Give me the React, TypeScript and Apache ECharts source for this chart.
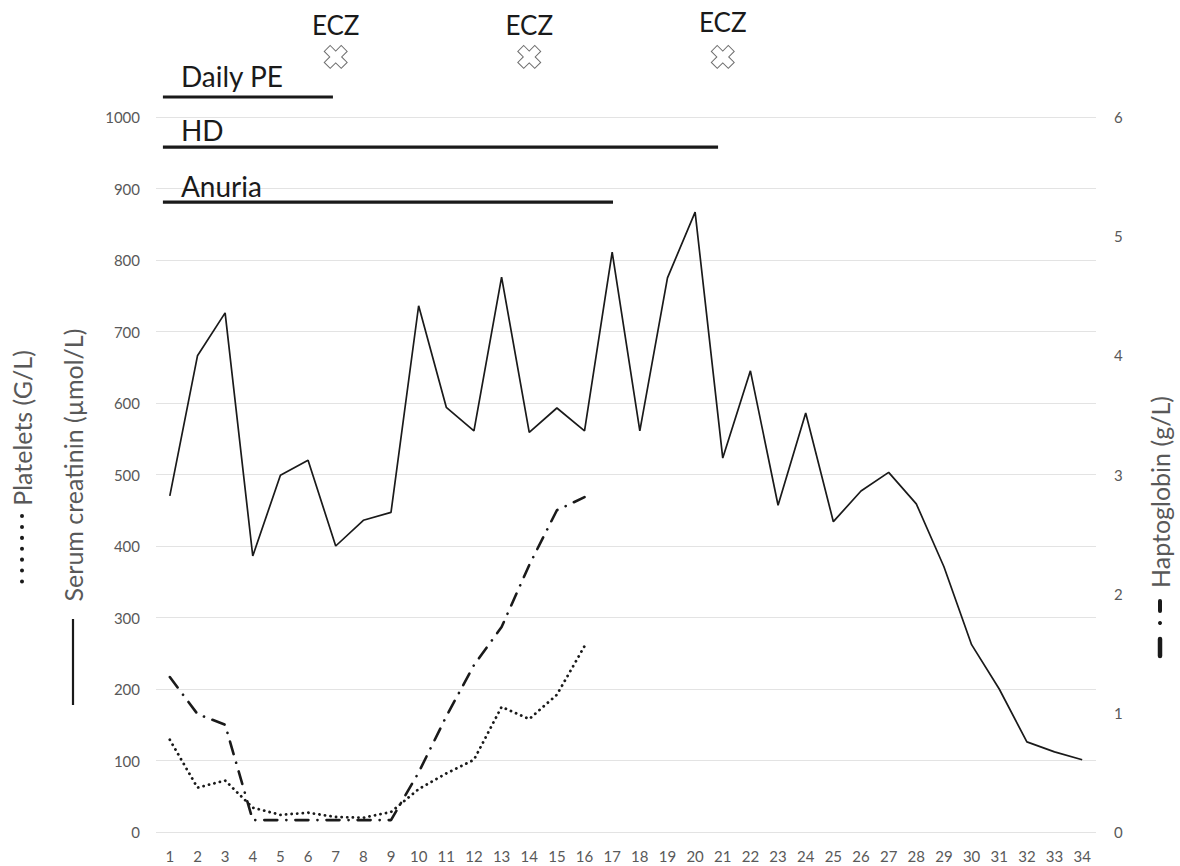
import React, { useEffect, useRef } from "react";
import * as echarts from "echarts";

const days = Array.from({ length: 34 }, (_, i) => String(i + 1));

const creatinine = [
  470, 666, 726, 386, 499, 520, 400, 436, 447, 736, 594, 561, 776, 559, 593, 561, 811,
  561, 775, 867, 523, 645, 457, 586, 434, 477, 503, 459, 371, 262, 200, 126, 112, 101,
];

const platelets = [
  129, 62, 72, 34, 24, 27, 21, 20, 28, 60, 82, 101, 175, 158, 192, 260,
];

const haptoglobin = [
  1.3, 0.99, 0.9, 0.1, 0.1, 0.1, 0.1, 0.1, 0.1, 0.5, 0.97, 1.4, 1.72, 2.24, 2.7, 2.81,
];

const leftTicks = { min: 0, max: 1000, interval: 100 };
const rightTicks = { min: 0, max: 6, interval: 1 };

// treatment bars: label, start day, end day, bar level, label level (left axis units)
const treatBars = [
  { label: "Daily PE", start: 0.75, end: 6.9, level: 1028, textLevel: 1058 },
  { label: "HD", start: 0.75, end: 20.83, level: 958, textLevel: 982 },
  { label: "Anuria", start: 0.75, end: 17.03, level: 881, textLevel: 903 },
];

// ECZ administrations: day, label level, marker level
const eczDays = [
  { day: 7, textLevel: 1129, markLevel: 1084 },
  { day: 14, textLevel: 1129, markLevel: 1084 },
  { day: 21, textLevel: 1133, markLevel: 1084 },
];

const FONT = "Lato, 'Open Sans', sans-serif";
const GRAY = "#595959";
const INK = "#1a1a1a";

function crossPoints(s: number, w: number): number[][] {
  return [
    [w, -s], [w, -w], [s, -w], [s, w], [w, w], [w, s],
    [-w, s], [-w, w], [-s, w], [-s, -w], [-w, -w], [-w, -s],
  ];
}

export default function App() {
  const ref = useRef<HTMLDivElement>(null);

  useEffect(() => {
    document.body.style.margin = "0";
    if (!ref.current) return;
    const chart = echarts.init(ref.current, undefined, { renderer: "svg" });

    chart.setOption({
      animation: false,
      backgroundColor: "#ffffff",
      grid: { left: 156, right: 84, top: 117, bottom: 34 },
      xAxis: {
        type: "category",
        data: days,
        boundaryGap: true,
        axisLine: { show: false },
        axisTick: { show: false },
        axisLabel: { color: GRAY, fontFamily: FONT, fontSize: 15, margin: 16, interval: 0 },
      },
      yAxis: [
        {
          type: "value",
          ...leftTicks,
          axisLine: { show: false },
          axisTick: { show: false },
          axisLabel: {
            color: GRAY,
            fontFamily: FONT,
            fontSize: 15,
            margin: 16,
            formatter: (v: number) => String(v),
          },
          splitLine: { lineStyle: { color: "#e3e3e3", width: 1.2 } },
        },
        {
          type: "value",
          ...rightTicks,
          axisLine: { show: false },
          axisTick: { show: false },
          axisLabel: { color: GRAY, fontFamily: FONT, fontSize: 15, margin: 18 },
          splitLine: { show: false },
        },
      ],
      series: [
        {
          name: "Serum creatinin",
          type: "line",
          data: creatinine,
          symbol: "none",
          lineStyle: { color: INK, width: 1.7 },
        },
        {
          name: "Platelets",
          type: "line",
          data: platelets,
          symbol: "none",
          lineStyle: { color: INK, width: 2.8, type: [0.1, 5.5], cap: "round" },
        },
        {
          name: "Haptoglobin",
          type: "line",
          yAxisIndex: 1,
          data: haptoglobin,
          symbol: "none",
          lineStyle: { color: INK, width: 2.6, type: [13, 9, 0.1, 9], cap: "round" },
        },
      ],
    });

    const x1 = chart.convertToPixel({ xAxisIndex: 0 }, days[0]) as number;
    const x2 = chart.convertToPixel({ xAxisIndex: 0 }, days[1]) as number;
    const step = x2 - x1;
    const xd = (d: number) => x1 + (d - 1) * step;
    const yv = (v: number) => chart.convertToPixel({ yAxisIndex: 0 }, v) as number;

    const graphic: any[] = [];
    treatBars.forEach((b) => {
      graphic.push({
        type: "line",
        shape: { x1: xd(b.start), y1: yv(b.level), x2: xd(b.end), y2: yv(b.level) },
        style: { stroke: INK, lineWidth: 3.2 },
      });
      graphic.push({
        type: "text",
        x: xd(b.start) + 18,
        y: yv(b.textLevel),
        style: {
          text: b.label,
          font: `28px ${FONT}`,
          fill: INK,
          textAlign: "left",
          textVerticalAlign: "middle",
        },
      });
    });
    eczDays.forEach((e) => {
      graphic.push({
        type: "text",
        x: xd(e.day),
        y: yv(e.textLevel),
        style: {
          text: "ECZ",
          font: `26px ${FONT}`,
          fill: INK,
          textAlign: "center",
          textVerticalAlign: "middle",
        },
      });
      graphic.push({
        type: "polygon",
        x: xd(e.day),
        y: yv(e.markLevel),
        rotation: Math.PI / 4,
        shape: { points: crossPoints(12, 4.2) },
        style: { fill: "#ffffff", stroke: "#6e6e6e", lineWidth: 1 },
      });
    });

    // axis titles with line-style keys
    const titleStyle = (text: string) => ({
      text,
      font: `25px ${FONT}`,
      fill: GRAY,
      textAlign: "center",
      textVerticalAlign: "middle",
    });
    graphic.push({
      type: "text",
      x: 22,
      y: 428,
      rotation: Math.PI / 2,
      style: titleStyle("Platelets (G/L)"),
    });
    graphic.push({
      type: "line",
      shape: { x1: 22, y1: 516, x2: 22, y2: 592 },
      style: { stroke: INK, lineWidth: 4, lineDash: [0.1, 10.8], lineCap: "round" },
    });
    graphic.push({
      type: "text",
      x: 73,
      y: 465,
      rotation: Math.PI / 2,
      style: titleStyle("Serum creatinin (µmol/L)"),
    });
    graphic.push({
      type: "line",
      shape: { x1: 73, y1: 619, x2: 73, y2: 705 },
      style: { stroke: INK, lineWidth: 2.2 },
    });

    graphic.push({
      type: "text",
      x: 1160,
      y: 492,
      rotation: Math.PI / 2,
      style: titleStyle("Haptoglobin (g/L)"),
    });
    graphic.push({
      type: "line",
      shape: { x1: 1160, y1: 601, x2: 1160, y2: 611 },
      style: { stroke: INK, lineWidth: 4, lineCap: "round" },
    });
    graphic.push({
      type: "circle",
      shape: { cx: 1160, cy: 623, r: 2 },
      style: { fill: INK },
    });
    graphic.push({
      type: "line",
      shape: { x1: 1160, y1: 639, x2: 1160, y2: 656 },
      style: { stroke: INK, lineWidth: 4.5, lineCap: "round" },
    });

    chart.setOption({ graphic });

    return () => chart.dispose();
  }, []);

  return <div ref={ref} style={{ width: 1180, height: 866 }} />;
}
